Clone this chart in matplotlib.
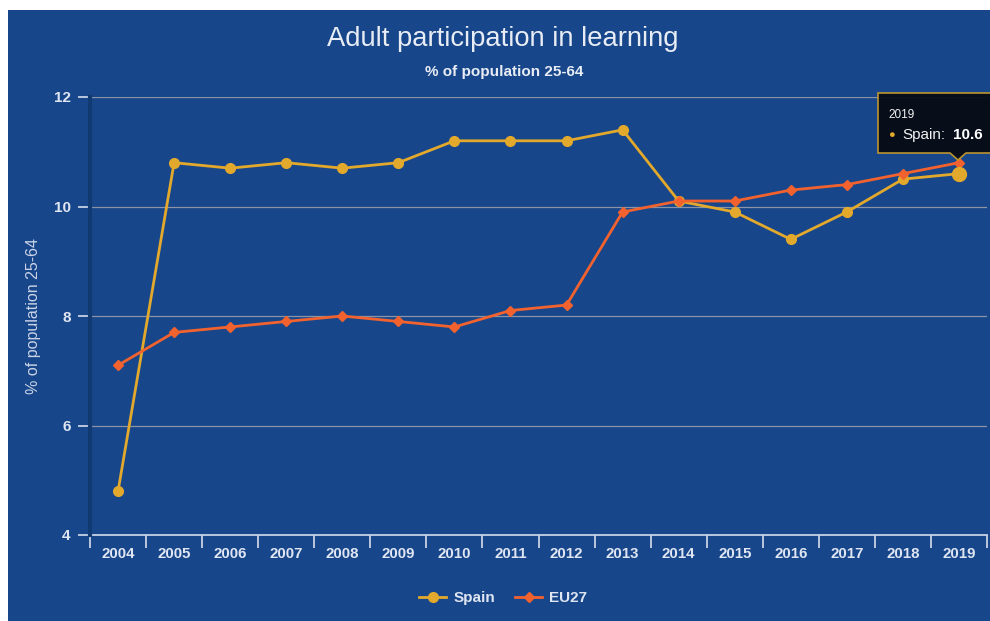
import matplotlib
matplotlib.use("Agg")
import matplotlib.pyplot as plt
from matplotlib.patches import Rectangle, Polygon
from matplotlib.lines import Line2D

years = ["2004", "2005", "2006", "2007", "2008", "2009", "2010", "2011",
         "2012", "2013", "2014", "2015", "2016", "2017", "2018", "2019"]
spain = [4.8, 10.8, 10.7, 10.8, 10.7, 10.8, 11.2, 11.2, 11.2, 11.4, 10.1, 9.9, 9.4, 9.9, 10.5, 10.6]
eu27 = [7.1, 7.7, 7.8, 7.9, 8.0, 7.9, 7.8, 8.1, 8.2, 9.9, 10.1, 10.1, 10.3, 10.4, 10.6, 10.8]
yticks = [4, 6, 8, 10, 12]

plt.rcParams['font.family'] = ['Liberation Sans', 'DejaVu Sans']

W, H = 990, 621
BG = "#18468a"
GOLD = "#e2a92c"
ORANGE = "#f2622e"
TXT = "#dfe6f2"

fig = plt.figure(figsize=(W / 100, H / 100), dpi=100, facecolor="white")

def fx(x):
    return x / W

def fy(y):
    return 1 - y / H

bg = Rectangle((fx(8), 0), fx(990) - fx(8), fy(10), transform=fig.transFigure,
               facecolor=BG, edgecolor="none", zorder=-10)
fig.patches.append(bg)

ax = fig.add_axes([fx(90), fy(535), fx(987) - fx(90), fy(97) - fy(535)])
ax.set_facecolor(BG)
ax.patch.set_alpha(0)

x = list(range(len(years)))
ax.set_xlim(-0.5, len(years) - 0.5)
ax.set_ylim(4, 12)

for v in yticks[1:]:
    ax.axhline(v, color="#8a94a6", lw=0.9, zorder=1)

ax.plot(x, spain, color=GOLD, lw=2.0, marker="o", ms=7, zorder=3, label="Spain")
ax.plot(x, eu27, color=ORANGE, lw=2.0, marker="D", ms=5, zorder=4, label="EU27")
ax.plot([x[-1]], [spain[-1]], marker="o", ms=10, color=GOLD, zorder=5)

for s in ["top", "right"]:
    ax.spines[s].set_visible(False)
ax.spines["left"].set_color("#123a72")
ax.spines["left"].set_linewidth(3)
ax.spines["bottom"].set_color("#c8d2e4")
ax.spines["bottom"].set_linewidth(1.3)
ax.spines["bottom"].set_zorder(2)

ax.set_yticks(yticks)
ax.set_yticklabels([str(v) for v in yticks])
ax.tick_params(axis="y", length=9, width=1.3, color="#c8d2e4", labelcolor=TXT,
               labelsize=11, pad=5)
for t in ax.get_yticklabels():
    t.set_fontweight("bold")

ax.set_xticks(x)
ax.set_xticklabels(years)
ax.set_xticks([i - 0.5 for i in range(len(years) + 1)], minor=True)
ax.tick_params(axis="x", which="major", length=0, labelcolor=TXT, labelsize=10.8, pad=9)
ax.tick_params(axis="x", which="minor", length=9, width=1.3, color="#c8d2e4")
for t in ax.get_xticklabels():
    t.set_fontweight("bold")

fig.text(fx(34), fy(316), "% of population 25-64", rotation=90, ha="center", va="center",
         color="#c9d3e6", fontsize=11.5)

fig.text(fx(503), fy(39), "Adult participation in learning", ha="center", va="center",
         color="#e8edf5", fontsize=19.7)
fig.text(fx(504), fy(72), "% of population 25-64", ha="center", va="center",
         color="#e8edf5", fontsize=11, fontweight="bold")

handles = [Line2D([], [], color=GOLD, lw=2, marker="o", ms=7),
           Line2D([], [], color=ORANGE, lw=2, marker="D", ms=5)]
leg = fig.legend(handles, ["Spain", "EU27"], loc="center", bbox_to_anchor=(fx(503), fy(598)),
                 ncol=2, frameon=False, handlelength=1.8, columnspacing=1.3, handletextpad=0.45,
                 fontsize=11)
for t in leg.get_texts():
    t.set_color(TXT)
    t.set_fontweight("bold")

# tooltip
x0, x1, y0, y1 = 878, 1000, 93, 153
tip = Polygon([[fx(x0), fy(y0)], [fx(x1), fy(y0)], [fx(x1), fy(y1)], [fx(966), fy(y1)],
               [fx(958), fy(160)], [fx(950), fy(y1)], [fx(x0), fy(y1)]], closed=True,
              transform=fig.transFigure, facecolor="#070b14", edgecolor="#c49a2e",
              lw=1.2, zorder=10, alpha=0.95)
fig.patches.append(tip)
fig.text(fx(888), fy(115), "2019", color="#f2f2f2", fontsize=8.5, va="center", zorder=11)
fig.text(fx(888), fy(135), "●", color=GOLD, fontsize=8, va="center", zorder=11)
fig.text(fx(902), fy(135), "Spain:", color="#f2f2f2", fontsize=11, va="center", zorder=11)
fig.text(fx(953), fy(135), "10.6", color="#ffffff", fontsize=11, fontweight="bold",
         va="center", zorder=11)

fig.savefig("out.png", dpi=100, facecolor="white")
